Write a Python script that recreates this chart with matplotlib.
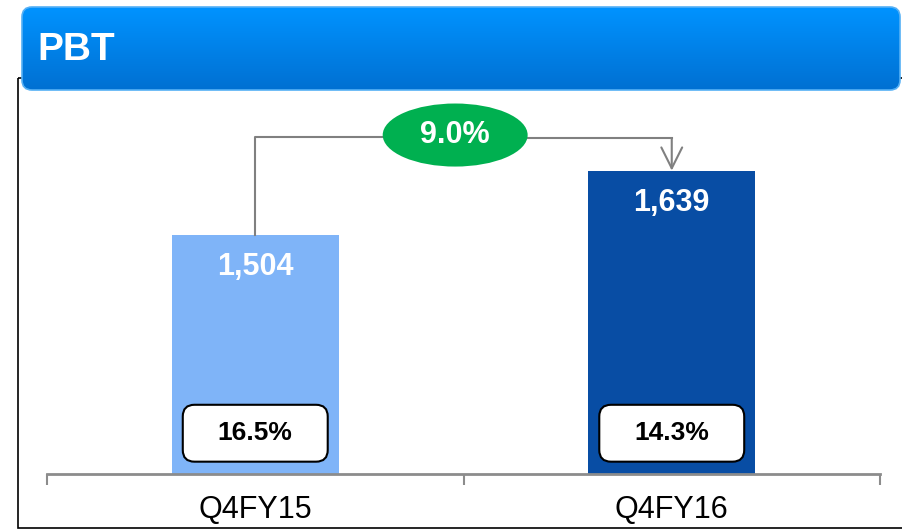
import matplotlib.pyplot as plt
import numpy as np
from matplotlib.patches import FancyBboxPatch, Ellipse, Rectangle

plt.rcParams['font.family'] = ['Liberation Sans', 'DejaVu Sans']

categories = ["Q4FY15", "Q4FY16"]
pbt = [1504, 1639]
margins = ["16.5%", "14.3%"]
growth = "9.0%"
bar_colors = ["#7FB4F8", "#084DA4"]

fig = plt.figure(figsize=(9.02, 5.31), dpi=100)
W, H = 902, 531

# background layer in pixel coords: frame + title banner
bg = fig.add_axes([0, 0, 1, 1], zorder=0)
bg.set_xlim(0, W)
bg.set_ylim(H, 0)
bg.axis("off")
bg.add_patch(Rectangle((18, 78), 900, 450, fill=False, edgecolor="black", lw=1.2))

banner = FancyBboxPatch((22, 7), 878, 83, boxstyle="round,pad=0,rounding_size=10",
                        facecolor="none", edgecolor="#55B0F5", lw=1.2, zorder=3)
bg.add_patch(banner)
grad = np.linspace(0, 1, 256).reshape(-1, 1)
top = np.array([0x00, 0x93, 0xFF]) / 255
bot = np.array([0x00, 0x70, 0xD2]) / 255
img = top + (bot - top) * grad[..., None]
im = bg.imshow(img, extent=(22, 900, 90, 7), aspect="auto", zorder=2)
im.set_clip_path(banner)
bg.text(37, 50, "PBT", color="white", fontsize=28, fontweight="bold",
        va="center", ha="left", zorder=4)

# main chart
ax = fig.add_axes([47 / W, 57 / H, 833 / W, 384 / H], zorder=1)
ax.patch.set_alpha(0)
base = 1000
ax.set_ylim(base, base + 810)
ax.set_xlim(-0.5, 1.5)

x = np.arange(len(categories))
ax.bar(x, np.array(pbt) - base, bottom=base, width=0.4, color=bar_colors, zorder=2)

for xi, v, m in zip(x, pbt, margins):
    ax.text(xi, v - 68, f"{v:,}", color="white", fontsize=22, fontweight="bold",
            ha="center", va="center", zorder=4)
    box = FancyBboxPatch((xi - 0.174, base + 26), 0.348, 120,
                         boxstyle="round,pad=0,rounding_size=0.028",
                         mutation_aspect=878, facecolor="white",
                         edgecolor="black", lw=1.5, zorder=3)
    ax.add_patch(box)
    ax.text(xi, base + 86, m, fontsize=19, fontweight="bold",
            ha="center", va="center", zorder=4)

# growth connector
ex, ey = 0.48, 1715
ew, eh = 0.348, 133
line_y = 1711
gray = "#808080"
ax.plot([x[0], x[0], ex - ew / 2], [pbt[0], line_y, line_y], color=gray, lw=1.5, zorder=2)
ax.plot([ex + ew / 2, x[1]], [line_y - 3, line_y - 3], color=gray, lw=1.5, zorder=2)
ax.annotate("", xy=(x[1], pbt[1] + 1), xytext=(x[1], line_y - 3),
            arrowprops=dict(arrowstyle="->,head_length=0.6,head_width=0.3", color=gray,
                            lw=1.5, mutation_scale=25, shrinkA=0, shrinkB=0), zorder=2)
ax.add_patch(Ellipse((ex, ey), ew, eh, facecolor="#00B050", edgecolor="none", zorder=3))
ax.text(ex, ey, growth, color="white", fontsize=22, fontweight="bold",
        ha="center", va="center", zorder=4)

for s in ["top", "right", "left"]:
    ax.spines[s].set_visible(False)
ax.spines["bottom"].set_color("#8C8C8C")
ax.spines["bottom"].set_linewidth(2)
ax.set_yticks([])
ax.set_xticks(x)
ax.set_xticklabels(categories, fontsize=22)
ax.tick_params(axis="x", length=0, pad=15)
ax.set_xticks([-0.5, 0.5, 1.5], minor=True)
ax.tick_params(axis="x", which="minor", length=8, width=1.5, color="#8C8C8C", direction="out")

fig.savefig("out.png", dpi=100)
